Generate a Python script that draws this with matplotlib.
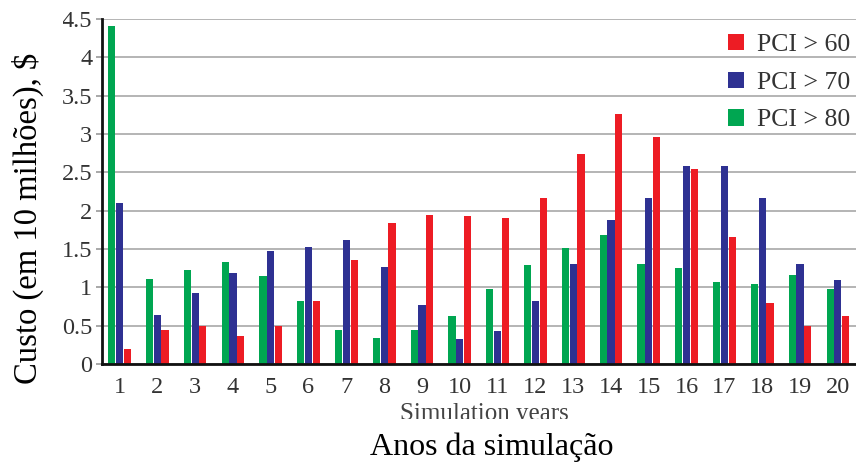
import matplotlib
matplotlib.use("Agg")
import matplotlib.pyplot as plt
import numpy as np
from matplotlib.transforms import Bbox, TransformedBbox

# Annual maintenance cost per PCI threshold (tens of millions of $)
years = list(range(1, 21))
pci_80 = [4.41, 1.11, 1.23, 1.33, 1.15, 0.82, 0.45, 0.34, 0.45, 0.62,
          0.98, 1.29, 1.51, 1.68, 1.31, 1.25, 1.07, 1.04, 1.16, 0.98]
pci_70 = [2.10, 0.64, 0.92, 1.19, 1.48, 1.52, 1.62, 1.27, 0.77, 0.33,
          0.43, 0.82, 1.31, 1.88, 2.16, 2.58, 2.58, 2.16, 1.31, 1.10]
pci_60 = [0.20, 0.45, 0.50, 0.36, 0.49, 0.82, 1.36, 1.84, 1.94, 1.93,
          1.90, 2.16, 2.74, 3.26, 2.96, 2.55, 1.66, 0.80, 0.49, 0.62]
yticks = [0, 0.5, 1, 1.5, 2, 2.5, 3, 3.5, 4, 4.5]
ytick_labels = ["0", "0.5", "1", "1.5", "2", "2.5", "3", "3.5", "4", "4.5"]

RED = "#ED1C24"
BLUE = "#2E3192"
GREEN = "#00A651"
TXT = "#333333"
SERIF = ["Liberation Serif", "DejaVu Serif"]

W, H = 856, 465
fig = plt.figure(figsize=(W / 100, H / 100), dpi=100)
fig.patch.set_facecolor("white")
ax = fig.add_axes([102 / W, (H - 364) / H, 1 - 102 / W, (364 - 19) / H])

x = np.array(years, dtype=float)
bw = 0.19
off = 0.205
b80 = ax.bar(x - off, pci_80, bw, color=GREEN, zorder=2)
b70 = ax.bar(x, pci_70, bw, color=BLUE, zorder=2)
b60 = ax.bar(x + off, pci_60, bw, color=RED, zorder=2)

ax.set_xlim(0.537, 20.48)
ax.set_ylim(0, 4.5)
ax.set_xticks(x)
ax.set_xticklabels([str(y) for y in years], family=SERIF, fontsize=17.5, color=TXT)
ax.set_yticks(yticks)
ax.set_yticklabels(ytick_labels, family=SERIF, fontsize=17.5, color=TXT)
ax.tick_params(axis="x", length=0, pad=9)
ax.tick_params(axis="y", length=4, width=1.2, color="#9a9a9a", pad=3)

ax.set_axisbelow(True)
ax.yaxis.grid(True, color="#a0a0a0", linewidth=1.1)
for s in ("top", "right"):
    ax.spines[s].set_visible(False)
for s in ("left", "bottom"):
    ax.spines[s].set_linewidth(2)
    ax.spines[s].set_color("#111111")
    ax.spines[s].set_zorder(3)

# y tick labels are trimmed on their left side
clip = TransformedBbox(Bbox([[63 / W, 0], [1, 1]]), fig.transFigure)
for lab in ax.get_yticklabels():
    lab.set_clip_box(clip)
    lab.set_clip_on(True)

leg = ax.legend([b60, b70, b80], ["PCI > 60", "PCI > 70", "PCI > 80"],
                loc="upper left", bbox_to_anchor=(728 / W, (H - 34) / H),
                bbox_transform=fig.transFigure, frameon=False,
                prop={"family": SERIF, "size": 18.5},
                handlelength=0.62, handleheight=0.6, handletextpad=0.5,
                labelspacing=0.6, borderaxespad=0, borderpad=0)
for t in leg.get_texts():
    t.set_color(TXT)

# English axis caption, cut off along its lower edge
sim = fig.text(484 / W, (H - 420) / H, "Simulation years", ha="center", va="baseline",
               family=SERIF, fontsize=18, color="#444444")
sim.set_clip_box(TransformedBbox(Bbox([[0, (H - 419) / H], [1, 1]]), fig.transFigure))
sim.set_clip_on(True)

fig.text(492 / W, (H - 447) / H, "Anos da simulação", ha="center", va="center",
         family=SERIF, fontsize=23, color="black")
fig.text(28 / W, (H - 218) / H, "Custo (em 10 milhões), $", ha="center", va="center",
         rotation=90, family=SERIF, fontsize=23.5, color="black")

fig.savefig("out.png", dpi=100, facecolor="white")
